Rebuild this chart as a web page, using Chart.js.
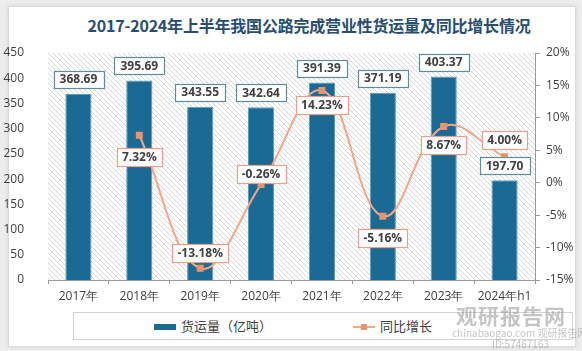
<!DOCTYPE html>
<html><head><meta charset="utf-8">
<script src="https://cdn.jsdelivr.net/npm/chart.js@4"></script>
<style>
html,body{margin:0;padding:0;background:#ececec;}
#wrap{position:relative;width:582px;height:351px;overflow:hidden;}
#card{position:absolute;left:8px;top:6px;width:566px;height:339px;background:#fff;border:1px solid #dcdcdc;box-shadow:0 0 4px rgba(0,0,0,0.10);}
#c{position:absolute;left:0;top:0;}
#title{position:absolute;left:0;width:618px;top:13px;text-align:center;font:bold 16px "Noto Sans CJK SC";color:#2a4d6e;white-space:nowrap;letter-spacing:-0.2px;}
#legend{position:absolute;left:73px;top:312px;width:500px;height:28px;border:1px solid #d4d4d4;box-sizing:border-box;}
.lg{position:absolute;top:4px;font:13px "Noto Sans CJK SC";color:#404040;line-height:18px;white-space:nowrap;}
.wm{position:absolute;color:rgba(150,150,150,0.55);white-space:nowrap;font-family:"Noto Sans CJK SC";}
</style></head>
<body>
<div id="wrap">
<div id="card"></div>
<div id="title">2017-2024年上半年我国公路完成营业性货运量及同比增长情况</div>
<div id="legend">
  <div style="position:absolute;left:80px;top:11px;width:22px;height:6px;background:#1b6a93;"></div>
  <div class="lg" style="left:107px;">货运量（亿吨）</div>
  <div style="position:absolute;left:279px;top:13px;width:22px;height:2px;background:#f0a88c;"></div>
  <div style="position:absolute;left:287px;top:11px;width:6px;height:6px;background:#e8956f;"></div>
  <div class="lg" style="left:306px;">同比增长</div>
</div>
<canvas id="c" width="582" height="351"></canvas>
<div class="wm" style="left:456px;top:300px;font-size:21px;font-weight:bold;letter-spacing:1px;">观研报告网</div>
<div class="wm" style="left:452px;top:325px;font-size:10px;">chinabaogao.com 观研报告网站</div>
<div class="wm" style="left:492px;top:336px;font-size:10px;">ID:57467163</div>
</div>
<script>
const categories = ['2017年','2018年','2019年','2020年','2021年','2022年','2023年','2024年h1'];
const volume = [368.69, 395.69, 343.55, 342.64, 391.39, 371.19, 403.37, 197.70];
const growth = [null, 7.32, -13.18, -0.26, 14.23, -5.16, 8.67, 4.00];
const leftTicks = [0,50,100,150,200,250,300,350,400,450];
const rightTicks = [-15,-10,-5,0,5,10,15,20];

// label placement (styling only): vertical offset of growth labels from points
const growthLabelOffset = [0, 22, -15, -10, 15, 22, 19, -17];

const hatchPlugin = {
  id: 'hatch',
  beforeDraw(chart) {
    const {ctx, chartArea: a} = chart;
    const p = document.createElement('canvas');
    p.width = 5; p.height = 5;
    const pc = p.getContext('2d');
    pc.fillStyle = '#ffffff'; pc.fillRect(0,0,5,5);
    pc.strokeStyle = '#d6d6d6'; pc.lineWidth = 1;
    pc.beginPath();
    pc.moveTo(-1,-1); pc.lineTo(6,6);
    pc.moveTo(-1,4); pc.lineTo(1,6);
    pc.moveTo(4,-1); pc.lineTo(6,1);
    pc.stroke();
    ctx.save();
    ctx.fillStyle = ctx.createPattern(p, 'repeat');
    ctx.fillRect(a.left, a.top, a.right - a.left, a.bottom - a.top);
    ctx.restore();
  }
};

function box(ctx, cx, cy, w, h, stroke) {
  ctx.fillStyle = '#ffffff';
  ctx.fillRect(cx - w/2, cy - h/2, w, h);
  ctx.strokeStyle = stroke; ctx.lineWidth = 1.2;
  ctx.strokeRect(Math.round(cx - w/2) + 0.5, Math.round(cy - h/2) + 0.5, Math.round(w), Math.round(h));
}

const labelPlugin = {
  id: 'vlabels',
  afterDatasetsDraw(chart) {
    const ctx = chart.ctx;
    ctx.save();
    ctx.font = 'bold 12px "Open Sans"';
    ctx.textAlign = 'center'; ctx.textBaseline = 'middle';
    chart.getDatasetMeta(0).data.forEach((el, i) => {
      const txt = volume[i].toFixed(2);
      const w = ctx.measureText(txt).width + 12, h = 17;
      const cx = el.x, cy = el.y - 6 - h/2;
      box(ctx, cx, cy, w, h, '#5e8d9b');
      ctx.fillStyle = '#404040';
      ctx.fillText(txt, cx, cy + 0.5);
    });
    chart.getDatasetMeta(1).data.forEach((el, i) => {
      if (growth[i] === null) return;
      const txt = growth[i].toFixed(2) + '%';
      const w = ctx.measureText(txt).width + 10, h = 18;
      const cx = el.x, cy = el.y + growthLabelOffset[i];
      box(ctx, cx, cy, w, h, '#e9a189');
      ctx.fillStyle = '#404040';
      ctx.fillText(txt, cx, cy + 0.5);
    });
    ctx.restore();
  }
};

new Chart(document.getElementById('c'), {
  data: {
    labels: categories,
    datasets: [
      {
        type: 'bar', label: '货运量（亿吨）', data: volume, yAxisID: 'y',
        backgroundColor: '#1b6a93', borderColor: '#5c9cbc', borderWidth: 1,
        barPercentage: 0.43, categoryPercentage: 1.0, order: 1
      },
      {
        type: 'line', label: '同比增长', data: growth, yAxisID: 'y1',
        borderColor: '#f0a88c', borderWidth: 2, tension: 0.4,
        pointStyle: 'rect', pointRadius: 3.5, pointBackgroundColor: '#e8956f',
        pointBorderColor: '#e8956f', spanGaps: false, order: 0
      }
    ]
  },
  options: {
    responsive: false, animation: false,
    layout: {padding: {top: 53, bottom: 41, left: 0, right: 0}},
    plugins: {legend: {display: false}, title: {display: false}, tooltip: {enabled: false}},
    scales: {
      x: {
        offset: true,
        grid: {display: true, drawOnChartArea: false, drawTicks: true, tickLength: 4, color: '#9a9a9a', offset: true},
        border: {display: true, color: '#9a9a9a'},
        ticks: {font: {family: 'Open Sans', size: 12}, color: '#404040', padding: 5, maxRotation: 0, autoSkip: false},
        afterFit(s) { s.height = 30; }
      },
      y: {
        position: 'left', min: 0, max: 450,
        afterBuildTicks(s) { s.ticks = leftTicks.map(v => ({value: v})); },
        grid: {display: false}, border: {display: false},
        ticks: {font: {family: 'Open Sans', size: 12}, color: '#404040', padding: 16},
        afterFit(s) { s.width = 48; }
      },
      y1: {
        position: 'right', min: -15, max: 20,
        afterBuildTicks(s) { s.ticks = rightTicks.map(v => ({value: v})); },
        grid: {display: true, drawOnChartArea: false, drawTicks: true, tickLength: 5, color: '#9a9a9a'},
        border: {display: true, color: '#9a9a9a'},
        ticks: {font: {family: 'Open Sans', size: 12}, color: '#404040', padding: 6, callback: v => v + '%'},
        afterFit(s) { s.width = 47; }
      }
    }
  },
  plugins: [hatchPlugin, labelPlugin]
});
</script>
</body></html>
